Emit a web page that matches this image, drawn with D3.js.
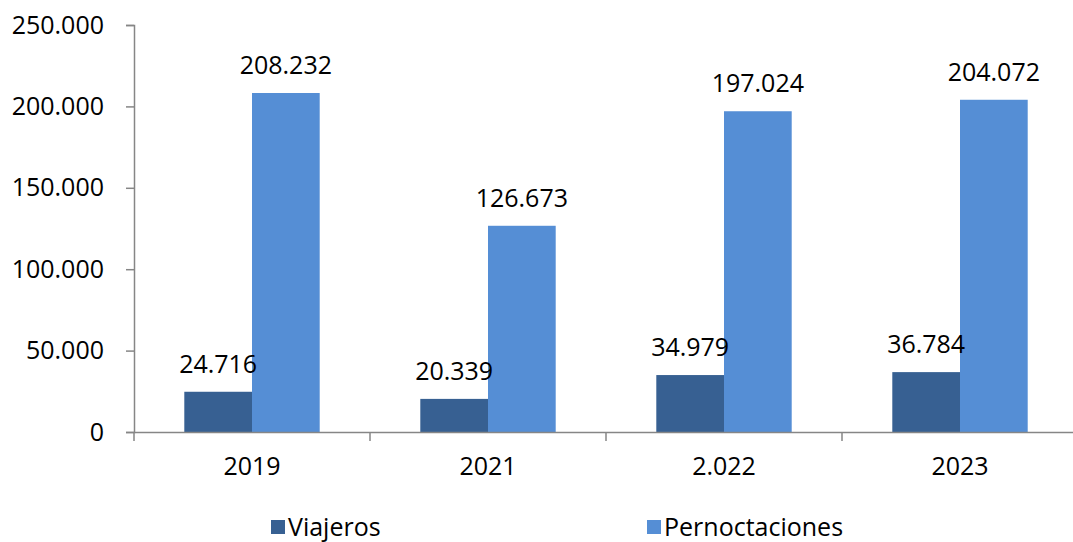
<!DOCTYPE html>
<html><head><meta charset="utf-8">
<script src="https://cdn.jsdelivr.net/npm/d3@7"></script>
<style>body{margin:0;background:#fff}svg{display:block}</style>
</head><body><svg id="c" width="1073" height="542"></svg>
<script>
const categories = ["2019", "2021", "2.022", "2023"];
const viajeros = [24716, 20339, 34979, 36784];
const pernoctaciones = [208232, 126673, 197024, 204072];
const seriesNames = ["Viajeros", "Pernoctaciones"];
const seriesColors = ["#376092", "#558ED5"];
const yTicks = [0, 50000, 100000, 150000, 200000, 250000];

(function () {
const fmt = v => d3.format(",")(v).replace(/,/g, ".");
const FONT = "'Open Sans', sans-serif";
const svg = d3.select("#c");
const mL = 134, mR = 1078, mT = 25, mB = 432;

const x = d3.scaleBand().domain(categories).range([mL, mR]).paddingInner(0).paddingOuter(0);
const xs = d3.scaleBand().domain(seriesNames).range([0, x.bandwidth()]).paddingInner(0).paddingOuter(0.743);
const y = d3.scaleLinear().domain([0, 250000]).range([mB, mT]);

// y axis
const ya = svg.append("g").attr("transform", `translate(${mL},0)`)
  .call(d3.axisLeft(y).tickValues(yTicks).tickSize(8).tickPadding(22).tickFormat(fmt));
ya.select(".domain").attr("stroke", "#868686").attr("stroke-width", 1.5);
ya.selectAll(".tick line").attr("stroke", "#868686").attr("stroke-width", 1.5);
ya.selectAll("text").attr("font-family", FONT).attr("font-size", 25).attr("fill", "#000");

// bars
const data = [viajeros, pernoctaciones];
const barG = svg.append("g");
const labG = svg.append("g");
seriesNames.forEach((s, si) => {
  barG.append("g").selectAll("rect").data(categories).join("rect")
    .attr("x", c => x(c) + xs(s))
    .attr("width", xs.bandwidth())
    .attr("y", (c, i) => y(data[si][i]))
    .attr("height", (c, i) => y(0) - y(data[si][i]))
    .attr("fill", seriesColors[si]);
  labG.append("g").selectAll("text").data(categories).join("text")
    .attr("x", c => x(c) + xs(s) + xs.bandwidth() / 2)
    .attr("y", (c, i) => y(data[si][i]) - 19)
    .attr("text-anchor", "middle")
    .attr("font-family", FONT).attr("font-size", 25).attr("fill", "#000")
    .text((c, i) => fmt(data[si][i]));
});

// x axis
const xa = svg.append("g").attr("transform", `translate(0,${mB})`)
  .call(d3.axisBottom(x).tickSize(0).tickPadding(25));
xa.select(".domain").attr("stroke", "#868686").attr("stroke-width", 1.5);
xa.selectAll("text").attr("font-family", FONT).attr("font-size", 25).attr("fill", "#000");
svg.append("g").selectAll("line").data(categories).join("line")
  .attr("x1", c => x(c)).attr("x2", c => x(c))
  .attr("y1", mB).attr("y2", mB + 9)
  .attr("stroke", "#868686").attr("stroke-width", 1.5);

// legend
const legX = [271, 647];
const lg = svg.append("g");
seriesNames.forEach((s, i) => {
  lg.append("rect").attr("x", legX[i]).attr("y", 520).attr("width", 14).attr("height", 14).attr("fill", seriesColors[i]);
  lg.append("text").attr("x", legX[i] + 17).attr("y", 536)
    .attr("font-family", FONT).attr("font-size", 25).attr("fill", "#000").text(s);
});
})();
</script></body></html>
